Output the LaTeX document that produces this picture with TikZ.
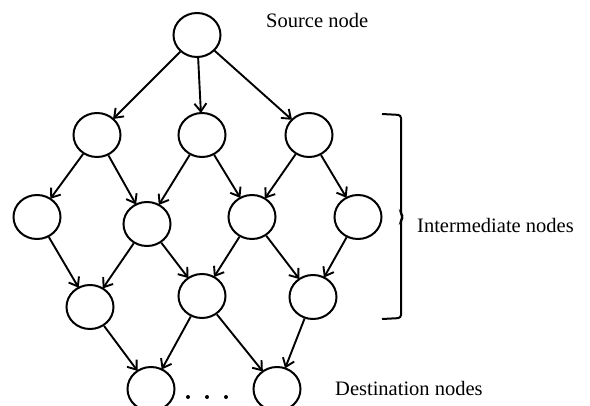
\documentclass[tikz,border=0pt]{standalone}
\usepackage{fontspec}
\setmainfont{Liberation Serif}
\usetikzlibrary{shapes.geometric,arrows.meta}
\tikzset{
  nd/.style={draw, ellipse, minimum width=47pt, minimum height=44pt, inner sep=0pt, line width=2pt},
  edge/.style={line width=1.9pt, shorten >=-1pt, -{Straight Barb[length=8pt,width=12pt,line width=1.9pt]}},
  lbl/.style={font=\fontsize{20.5}{24}\selectfont, inner sep=0pt, anchor=base west},
  dot/.style={circle, fill, inner sep=0pt, minimum size=4pt}
}
\begin{document}
\begin{tikzpicture}[x=1pt,y=-1pt]
\useasboundingbox (0,0) rectangle (590,405);
% nodes
\node[nd] (s) at (197,35) {};
\node[nd] (a1) at (97,135) {};
\node[nd] (a2) at (202,135) {};
\node[nd] (a3) at (309,135) {};
\node[nd] (b1) at (37,217) {};
\node[nd] (b2) at (147,224) {};
\node[nd] (b3) at (252,217) {};
\node[nd] (b4) at (358,217) {};
\node[nd] (c1) at (90,307) {};
\node[nd] (c2) at (202,296) {};
\node[nd] (c3) at (313,297) {};
\node[nd] (d1) at (151,389) {};
\node[nd] (d2) at (277,389) {};
\node[dot] (p1) at (188,397) {};
\node[dot] (p2) at (207,397) {};
\node[dot] (p3) at (226,397) {};
% edges
\draw[edge] (s) -- (a1);
\draw[edge] (s) -- (a2);
\draw[edge] (s) -- (a3);
\draw[edge] (a1) -- (b1);
\draw[edge] (a1) -- (b2);
\draw[edge] (a2) -- (b2);
\draw[edge] (a2) -- (b3);
\draw[edge] (a3) -- (b3);
\draw[edge] (a3) -- (b4);
\draw[edge] (b1) -- (c1);
\draw[edge] (b2) -- (c1);
\draw[edge] (b2) -- (c2);
\draw[edge] (b3) -- (c2);
\draw[edge] (b3) -- (c3);
\draw[edge] (b4) -- (c3);
\draw[edge] (c1) -- (d1);
\draw[edge] (c2) -- (d1);
\draw[edge] (c2) -- (d2);
\draw[edge] (c3) -- (d2);
% bracket
\draw[line width=2pt, rounded corners=3pt] (382,114) -- (401,115) -- (401,214) -- (403,217) -- (401,220) -- (401,318) -- (382,319);
% labels
\node[lbl] (src) at (266,27) {Source node};
\node[lbl] (mid) at (417,232) {Intermediate nodes};
\node[lbl] (dst) at (335,395) {Destination nodes};
\end{tikzpicture}
\end{document}
